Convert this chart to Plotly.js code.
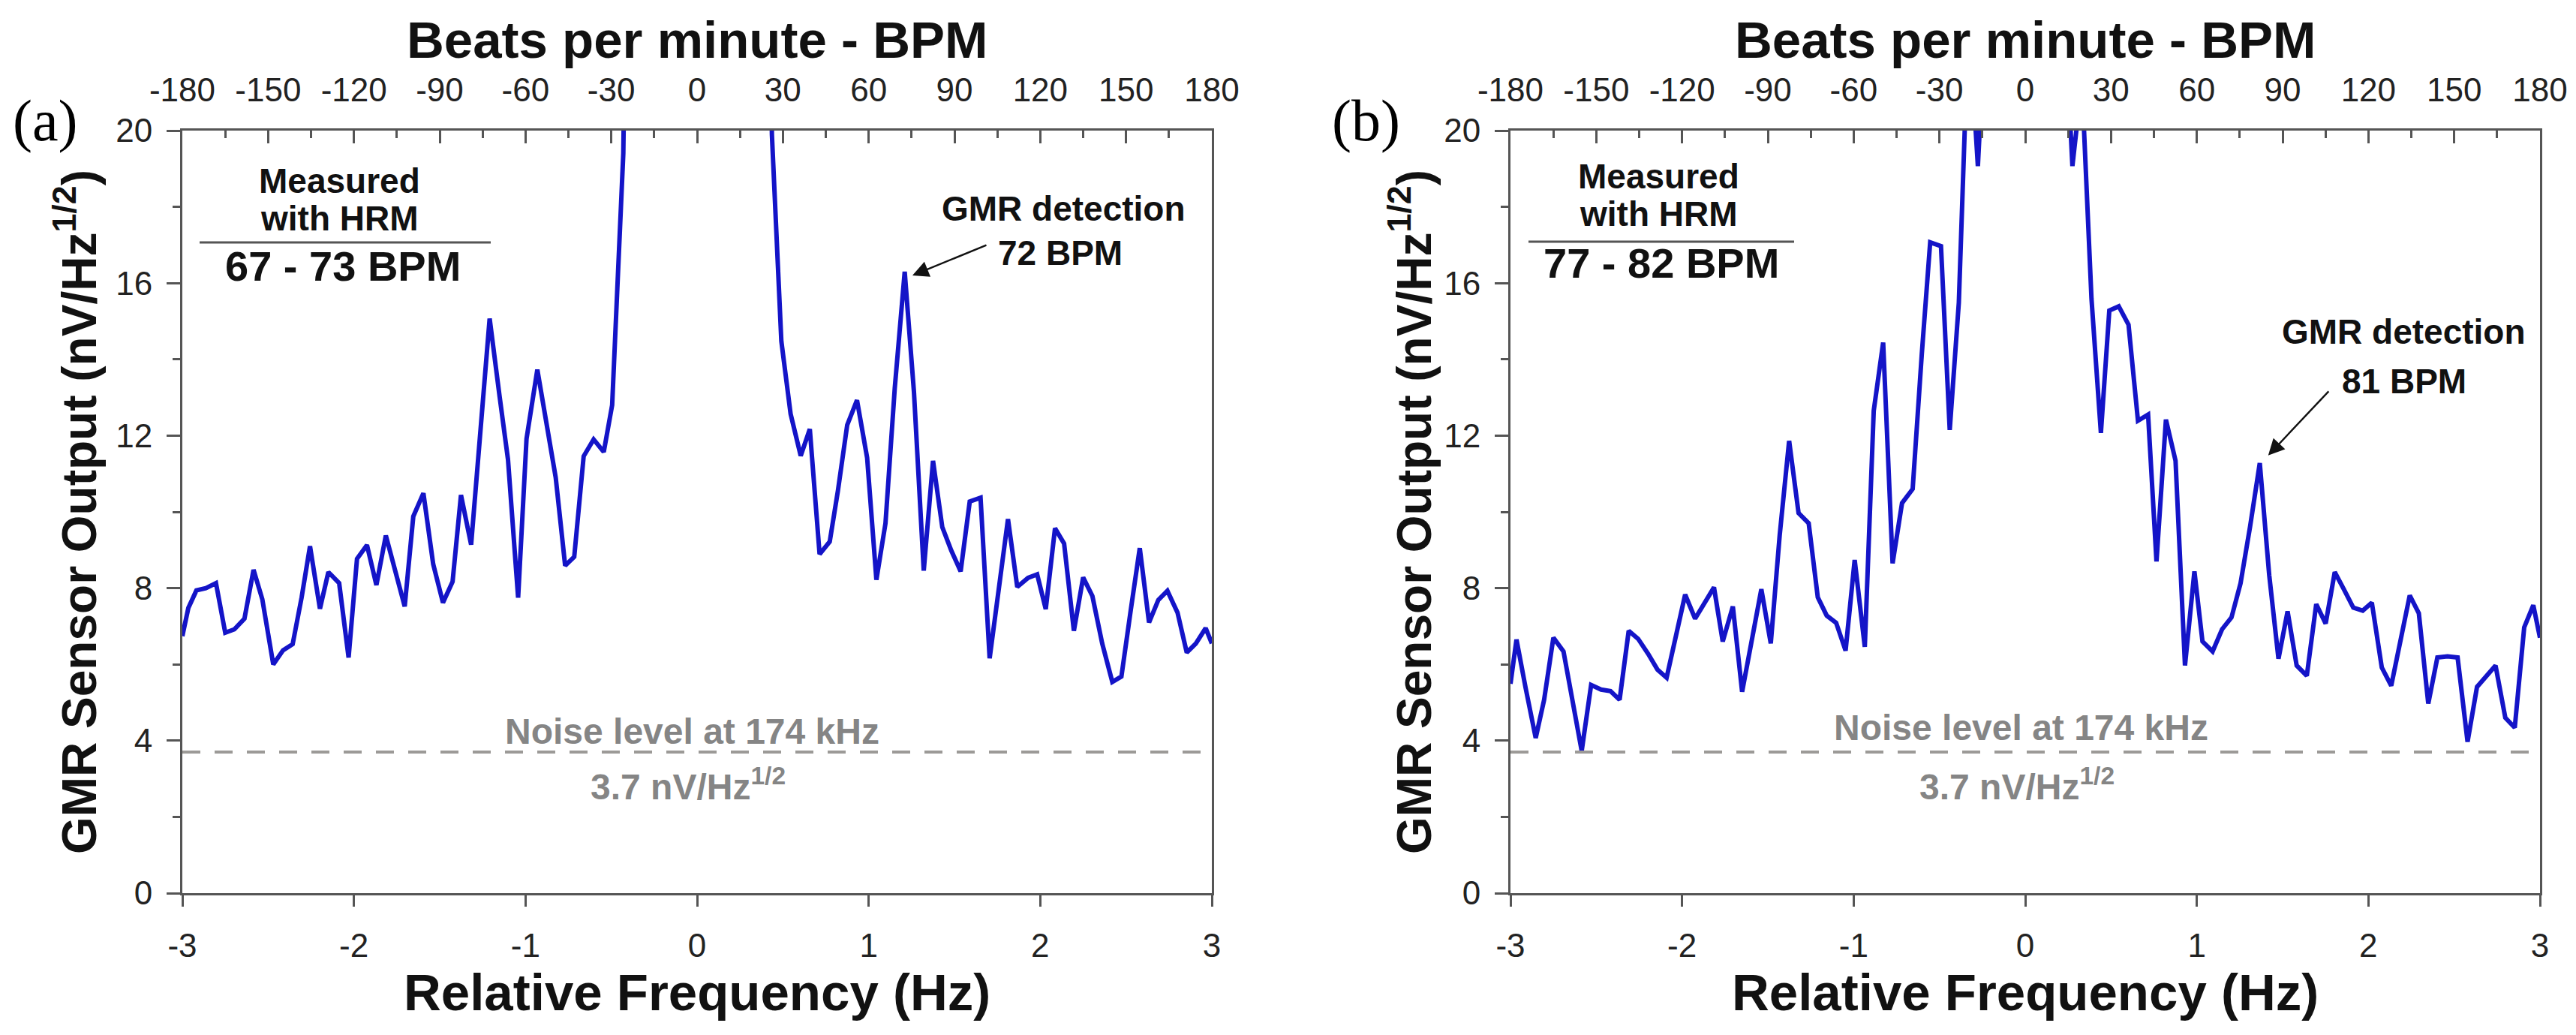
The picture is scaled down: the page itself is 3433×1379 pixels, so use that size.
<!DOCTYPE html>
<html>
<head>
<meta charset="utf-8">
<script src="https://cdn.plot.ly/plotly-3.0.1.min.js"></script>
<style>html,body{margin:0;padding:0;background:#fff;}#chart{width:3433px;height:1379px;}</style>
</head>
<body>
<div id="chart"></div>
<script>
// ---------------- data ----------------
const FREQ_A = [-3.000,-2.965,-2.918,-2.863,-2.804,-2.750,-2.697,-2.638,-2.585,-2.534,-2.470,-2.413,-2.357,-2.305,-2.256,-2.198,-2.149,-2.086,-2.031,-1.982,-1.924,-1.869,-1.814,-1.763,-1.704,-1.654,-1.595,-1.538,-1.481,-1.425,-1.376,-1.317,-1.262,-1.209,-1.151,-1.102,-1.043,-0.994,-0.931,-0.876,-0.824,-0.769,-0.716,-0.661,-0.603,-0.544,-0.495,-0.430,-0.375,-0.320,0.320,0.380,0.436,0.491,0.545,0.604,0.657,0.714,0.773,0.821,0.875,0.932,0.991,1.045,1.098,1.152,1.210,1.264,1.321,1.375,1.429,1.482,1.536,1.589,1.652,1.705,1.759,1.812,1.866,1.929,1.982,2.032,2.086,2.139,2.196,2.250,2.304,2.361,2.420,2.473,2.527,2.580,2.634,2.688,2.741,2.800,2.854,2.907,2.964,3.000];
const GMR_A  = [6.74,7.48,7.94,8.00,8.13,6.83,6.92,7.20,8.48,7.71,6.00,6.37,6.53,7.75,9.10,7.46,8.42,8.13,6.18,8.77,9.13,8.08,9.38,8.50,7.52,9.88,10.49,8.63,7.62,8.17,10.44,9.14,12.30,15.07,13.03,11.37,7.75,11.92,13.73,12.20,10.90,8.59,8.82,11.46,11.90,11.57,12.80,19.40,38,57,55,36,19.9,14.48,12.57,11.47,12.17,8.89,9.22,10.56,12.28,12.93,11.42,8.22,9.70,13.24,16.30,13.14,8.46,11.34,9.60,8.98,8.44,10.27,10.37,6.16,7.98,9.81,8.03,8.27,8.36,7.45,9.57,9.17,6.88,8.28,7.79,6.55,5.54,5.68,7.41,9.05,7.10,7.69,7.93,7.36,6.31,6.55,6.95,6.55];

const FREQ_B = [-3.000,-2.965,-2.912,-2.853,-2.804,-2.750,-2.691,-2.638,-2.585,-2.530,-2.472,-2.417,-2.364,-2.311,-2.256,-2.198,-2.143,-2.090,-2.037,-1.982,-1.924,-1.869,-1.814,-1.763,-1.704,-1.650,-1.595,-1.538,-1.483,-1.431,-1.376,-1.321,-1.262,-1.209,-1.157,-1.102,-1.047,-0.994,-0.935,-0.883,-0.828,-0.773,-0.718,-0.656,-0.603,-0.554,-0.491,-0.440,-0.387,-0.330,-0.276,-0.220,0.220,0.275,0.330,0.386,0.441,0.490,0.545,0.602,0.657,0.716,0.765,0.820,0.876,0.931,0.986,1.033,1.092,1.147,1.202,1.255,1.310,1.367,1.422,1.476,1.529,1.582,1.641,1.696,1.751,1.804,1.857,1.912,1.967,2.020,2.078,2.133,2.186,2.241,2.294,2.349,2.402,2.461,2.520,2.578,2.633,2.686,2.741,2.798,2.853,2.908,2.961,3.000];
const GMR_B  = [5.49,6.65,5.39,4.07,5.07,6.70,6.34,5.07,3.73,5.46,5.34,5.30,5.07,6.88,6.67,6.28,5.86,5.65,6.76,7.83,7.20,7.62,8.02,6.60,7.52,5.28,6.65,7.97,6.55,9.39,11.86,9.97,9.70,7.76,7.28,7.09,6.36,8.74,6.46,12.65,14.44,8.65,10.23,10.60,14.13,17.07,16.97,12.15,15.49,23.0,19.07,24.0,24.0,19.07,21.3,15.60,12.07,15.28,15.39,14.91,12.39,12.55,8.70,12.42,11.34,5.97,8.44,6.60,6.34,6.92,7.23,8.13,9.60,11.28,8.34,6.15,7.39,5.97,5.70,7.58,7.07,8.42,7.97,7.49,7.41,7.62,5.92,5.44,6.60,7.81,7.34,4.97,6.18,6.21,6.18,3.97,5.41,5.70,5.97,4.60,4.34,6.97,7.55,6.70];

const NOISE_LEVEL = 3.7;
const NOISE_X = [-3, 3];

const HZ_TICKS  = [-3,-2,-1,0,1,2,3];
const HZ_LABELS = ['-3','-2','-1','0','1','2','3'];
const BPM_TICKS  = [-180,-150,-120,-90,-60,-30,0,30,60,90,120,150,180];
const BPM_LABELS = ['-180','-150','-120','-90','-60','-30','0','30','60','90','120','150','180'];
const Y_TICKS  = [0,4,8,12,16,20];
const Y_LABELS = ['0','4','8','12','16','20'];

const HRM_A = '67 - 73 BPM';
const HRM_B = '77 - 82 BPM';
const PEAK_A = {f: 1.255, v: 16.2, label: '72 BPM'};
const PEAK_B = {f: 1.416, v: 11.48, label: '81 BPM'};

// ---------------- layout helpers ----------------
const W = 3433, H = 1379;
const PX = x => x / W;
const PY = y => 1 - y / H;
const SANS = 'Liberation Sans, Arial, Helvetica, sans-serif';
const SERIF = 'Liberation Serif, Times New Roman, serif';
const AX = '#555555';
const TICKFONT = {family: SANS, size: 44, color: '#222222'};

const domA = [PX(243), PX(1615)];
const domB = [PX(2013), PX(3385)];
const domY = [PY(1190), PY(174)];

function bottomAxis(dom) {
  return {domain: dom, range: [-3, 3], anchor: dom === domA ? 'y' : 'y2',
    tickmode: 'array', tickvals: HZ_TICKS, ticktext: HZ_LABELS,
    ticks: 'outside', ticklen: 15, tickwidth: 3, tickcolor: AX,
    showline: true, linecolor: AX, linewidth: 3, mirror: false,
    showgrid: false, zeroline: false, tickfont: TICKFONT,
    ticklabelstandoff: 14, automargin: false, fixedrange: true};
}
function topAxis(over, anchor) {
  return {overlaying: over, side: 'top', anchor: anchor, range: [-180, 180],
    tickmode: 'array', tickvals: BPM_TICKS, ticktext: BPM_LABELS,
    ticks: 'inside', ticklen: 17, tickwidth: 3, tickcolor: AX,
    minor: {tickmode: 'linear', tick0: 0, dtick: 15, ticks: 'inside', ticklen: 10, tickwidth: 3, tickcolor: AX, showgrid: false},
    showline: true, linecolor: AX, linewidth: 3,
    showgrid: false, zeroline: false, tickfont: TICKFONT,
    ticklabelstandoff: 18, automargin: false, fixedrange: true};
}
function leftAxis(anchor) {
  return {domain: domY, range: [0, 20], anchor: anchor,
    tickmode: 'array', tickvals: Y_TICKS, ticktext: Y_LABELS,
    ticks: 'outside', ticklen: 18, tickwidth: 3, tickcolor: AX,
    minor: {tickmode: 'linear', tick0: 0, dtick: 2, ticks: 'outside', ticklen: 10, tickwidth: 3, tickcolor: AX, showgrid: false},
    showline: true, linecolor: AX, linewidth: 3, mirror: true,
    showgrid: false, zeroline: false, tickfont: TICKFONT,
    ticklabelstandoff: 10, automargin: false, fixedrange: true};
}

const BLUE = '#1414c8';
const NOISE_LINE = {color: '#9c9a97', width: 4, dash: '24px,19px'};
const traces = [
  {x: FREQ_A, y: GMR_A, xaxis: 'x', yaxis: 'y', mode: 'lines', line: {color: BLUE, width: 6}, hoverinfo: 'skip'},
  {x: NOISE_X, y: NOISE_X.map(() => NOISE_LEVEL), xaxis: 'x', yaxis: 'y', mode: 'lines', line: NOISE_LINE, hoverinfo: 'skip'},
  {x: BPM_TICKS, y: BPM_TICKS.map(() => null), xaxis: 'x2', yaxis: 'y', mode: 'lines', hoverinfo: 'skip'},
  {x: FREQ_B, y: GMR_B, xaxis: 'x3', yaxis: 'y2', mode: 'lines', line: {color: BLUE, width: 6}, hoverinfo: 'skip'},
  {x: NOISE_X, y: NOISE_X.map(() => NOISE_LEVEL), xaxis: 'x3', yaxis: 'y2', mode: 'lines', line: NOISE_LINE, hoverinfo: 'skip'},
  {x: BPM_TICKS, y: BPM_TICKS.map(() => null), xaxis: 'x4', yaxis: 'y2', mode: 'lines', hoverinfo: 'skip'}
];

function txt(text, x, y, size, opts) {
  return Object.assign({text: text, xref: 'paper', yref: 'paper', x: PX(x), y: PY(y),
    xanchor: 'center', yanchor: 'middle', showarrow: false,
    font: {family: SANS, size: size, color: '#111111'}}, opts || {});
}
const GRAY = '#858585';
const annotations = [
  txt('(a)', 60, 160, 78, {font: {family: SERIF, size: 78, color: '#000'}}),
  txt('(b)', 1820, 160, 78, {font: {family: SERIF, size: 78, color: '#000'}}),
  txt('<b>GMR Sensor Output (nV/Hz<sup>1/2</sup>)</b>', 101, 682, 64, {textangle: -90}),
  txt('<b>GMR Sensor Output (nV/Hz<sup>1/2</sup>)</b>', 1880, 682, 64, {textangle: -90}),
  txt('<b>Beats per minute - BPM</b>', 929, 53, 69),
  txt('<b>Beats per minute - BPM</b>', 2699, 53, 69),
  txt('<b>Relative Frequency (Hz)</b>', 929, 1322, 69),
  txt('<b>Relative Frequency (Hz)</b>', 2699, 1322, 69),
  txt('<b>Measured</b>', 452, 241, 46),
  txt('<b>with HRM</b>', 452, 291, 46),
  txt('<b>' + HRM_A + '</b>', 457, 355, 56),
  txt('<b>Measured</b>', 2210, 235, 46),
  txt('<b>with HRM</b>', 2210, 285, 46),
  txt('<b>' + HRM_B + '</b>', 2214, 350, 56),
  txt('<b>GMR detection</b>', 1417, 278, 46),
  txt('<b>' + PEAK_A.label + '</b>', 1413, 337, 46),
  txt('<b>GMR detection</b>', 3203, 442, 46),
  txt('<b>' + PEAK_B.label + '</b>', 3204, 508, 46),
  txt('<b>Noise level at 174 kHz</b>', 923, 974, 48, {font: {family: SANS, size: 48, color: GRAY}}),
  txt('<b>' + NOISE_LEVEL + ' nV/Hz<sup>1/2</sup></b>', 917, 1045, 48, {font: {family: SANS, size: 48, color: GRAY}}),
  txt('<b>Noise level at 174 kHz</b>', 2693, 969, 48, {font: {family: SANS, size: 48, color: GRAY}}),
  txt('<b>' + NOISE_LEVEL + ' nV/Hz<sup>1/2</sup></b>', 2688, 1045, 48, {font: {family: SANS, size: 48, color: GRAY}}),
  {x: PEAK_A.f, y: PEAK_A.v, xref: 'x', yref: 'y', text: '', showarrow: true, ax: 100, ay: -41,
   arrowhead: 2, arrowsize: 1.8, arrowwidth: 2.4, arrowcolor: '#111', standoff: 0},
  {x: PEAK_B.f, y: PEAK_B.v, xref: 'x3', yref: 'y2', text: '', showarrow: true, ax: 82, ay: -87,
   arrowhead: 2, arrowsize: 1.8, arrowwidth: 2.4, arrowcolor: '#111', standoff: 0}
];

const shapes = [
  {type: 'line', xref: 'paper', yref: 'paper', x0: PX(266), x1: PX(654), y0: PY(323), y1: PY(323), line: {color: '#555', width: 3}},
  {type: 'line', xref: 'paper', yref: 'paper', x0: PX(2037), x1: PX(2391), y0: PY(322), y1: PY(322), line: {color: '#555', width: 3}}
];

const layout = {
  width: W, height: H, margin: {l: 0, r: 0, t: 0, b: 0},
  paper_bgcolor: '#ffffff', plot_bgcolor: '#ffffff', showlegend: false,
  font: {family: SANS, color: '#222'},
  xaxis: bottomAxis(domA),
  xaxis2: topAxis('x', 'y'),
  xaxis3: bottomAxis(domB),
  xaxis4: topAxis('x3', 'y2'),
  yaxis: leftAxis('x'),
  yaxis2: leftAxis('x3'),
  annotations: annotations,
  shapes: shapes
};

Plotly.newPlot('chart', traces, layout, {displayModeBar: false, staticPlot: true});
</script>
</body>
</html>
